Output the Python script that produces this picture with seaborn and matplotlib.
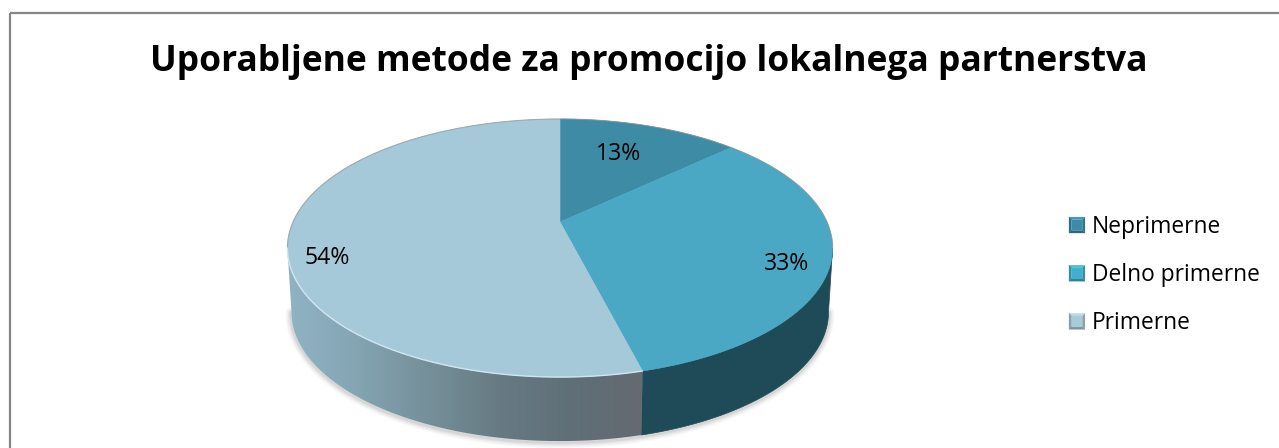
import numpy as np
import matplotlib
matplotlib.use("Agg")
import matplotlib.pyplot as plt
from matplotlib.patches import Polygon, Patch, Rectangle
from matplotlib.legend_handler import HandlerBase
import seaborn as sns

title = "Uporabljene metode za promocijo lokalnega partnerstva"
categories = ["Neprimerne", "Delno primerne", "Primerne"]
shares = [13, 33, 54]
top_colors = ["#3d8ba4", "#4ba8c4", "#a6c9da"]
key_colors = ["#3a8cA8", "#40b0cc", "#a9cad8"]

sns.set_theme(style="white")
plt.rcParams["font.family"] = ["Open Sans", "DejaVu Sans"]
palette = sns.color_palette(top_colors)

W, H = 1279, 448
fig = plt.figure(figsize=(W / 100, H / 100), dpi=100, facecolor="white")
ax = fig.add_axes([0, 0, 1, 1])
ax.set_axis_off()

# perspective disc geometry in pixels
CX, CY, RX, RY, K, DEPTH, SHRINK = 560, 222, 267, 123.8, 0.2016, 64, 0.985


def rim(t):
    w = 1 + K * np.cos(t)
    return CX + RX * np.sin(t) / w, CY - RY * np.cos(t) / w


def base(t):
    x, y = rim(t)
    return CX + (x - CX) * SHRINK, y + DEPTH


edges = np.radians(np.concatenate([[0], np.cumsum(shares)]) * 3.6)
t_right = np.arccos(-K)
t_left = 2 * np.pi - t_right

# soft shadow under the base
tt = np.linspace(t_right, t_left, 400)
bx, by = base(tt)
for lw, alpha in [(9, 0.03), (7, 0.05), (5, 0.07), (3, 0.10)]:
    ax.plot(bx, by + 1, color="#555555", lw=lw, alpha=alpha, zorder=1, solid_capstyle="round")


def side(a, b):
    t = np.linspace(a, b, 200)
    x, y = rim(t)
    x2, y2 = base(t)
    return np.column_stack([np.r_[x, x2[::-1]], np.r_[y, y2[::-1]]])


# side wall: dark for the middle slice, gradient for the large slice
ax.add_patch(Polygon(side(t_right, edges[2]), closed=True, fc="#1f4a58", ec="#1f4a58", lw=0.5, zorder=2))
side_cmap = sns.blend_palette(["#90b3c4", "#84a4b2", "#758f99", "#677a83", "#5f6f78", "#656a70"], as_cmap=True)
poly = Polygon(side(edges[2], t_left), closed=True, fc="none", ec="none", transform=ax.transData)
ax.add_patch(poly)
x_low = rim(t_left)[0]
x_high = rim(edges[2])[0]
im = ax.imshow(np.linspace(0, 1, 256).reshape(1, -1), cmap=side_cmap, aspect="auto",
               extent=(x_low, x_high, 460, 200), zorder=2)
im.set_clip_path(poly)

# top face
for i in range(len(shares)):
    t = np.linspace(edges[i], edges[i + 1], 300)
    x, y = rim(t)
    pts = np.column_stack([np.r_[CX, x], np.r_[CY, y]])
    ax.add_patch(Polygon(pts, closed=True, fc=palette[i], ec=palette[i], lw=0.4, zorder=3))

# rim lines: grey at the back, highlight in front of the large slice
t_back = np.linspace(t_left, t_right + 2 * np.pi, 300)
ax.plot(*rim(t_back), color="#8f9498", lw=0.8, zorder=4, alpha=0.65)
t_front = np.linspace(edges[2], t_left, 300)
ax.plot(*rim(t_front), color="#cfe6f1", lw=1.0, zorder=4)

# percent labels
label_positions = [(619, 154), (787, 264), (327, 258)]
for v, (lx, ly) in zip(shares, label_positions):
    ax.text(lx, ly, f"{v}%", ha="center", va="center", fontsize=16.6, color="black", zorder=5)

ax.text(649, 62, title, ha="center", va="center", fontsize=25.5, fontweight="bold", color="black")


class BevelKey(HandlerBase):
    """Legend key drawn as a small bevelled square."""

    def create_artists(self, legend, orig, xd, yd, width, height, fontsize, trans):
        base_c = np.array(matplotlib.colors.to_rgb(orig.get_facecolor()))
        x0, y0 = -xd, -yd
        x1, y1 = x0 + width, y0 + height
        ins = width * 0.16
        outer = [(x0, y0), (x1, y0), (x1, y1), (x0, y1)]
        inner = [(x0 + ins, y0 + ins), (x1 - ins, y0 + ins), (x1 - ins, y1 - ins), (x0 + ins, y1 - ins)]
        factors = [0.72, 0.80, 1.08, 0.80]
        arts = []
        for k, f in enumerate(factors):
            j = (k + 1) % 4
            c = np.clip(base_c * f, 0, 1)
            arts.append(Polygon([outer[k], outer[j], inner[j], inner[k]], closed=True, fc=c, ec=c, lw=0.2, transform=trans))
        arts.append(Polygon(inner, closed=True, fc=base_c, ec=base_c, lw=0.2, transform=trans))
        return arts


handles = [Patch(fc=c) for c in key_colors]
leg = ax.legend(handles, categories, loc="upper left", bbox_to_anchor=(1069 / W, 1 - 215 / H),
                frameon=False, fontsize=16.4, handlelength=0.7, handleheight=0.7, handletextpad=0.3,
                labelspacing=1.06, borderpad=0, borderaxespad=0, labelcolor="black",
                handler_map={Patch: BevelKey()})

ax.add_patch(Rectangle((9.5, 13.5), 1300, 460, fc="none", ec="#868686", lw=1.6, zorder=6))
ax.set_xlim(0, W)
ax.set_ylim(H, 0)
fig.savefig("out.png", dpi=100)
